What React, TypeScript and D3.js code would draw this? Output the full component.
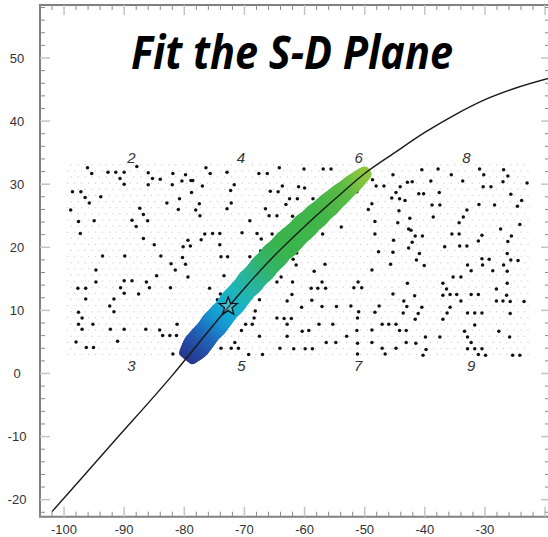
import React from "react";
import * as d3 from "d3";

const WIDTH = 548;
const HEIGHT = 537;

const titleText = "Fit the S-D Plane";
const xTickValues = [-100, -90, -80, -70, -60, -50, -40, -30];
const yTickValues = [-20, -10, 0, 10, 20, 30, 40, 50];

// fitted curve through the S-D plane
const curveX = [-102, -92, -82, -76, -70, -65, -60, -55, -50, -45, -40, -35, -30, -25, -19.3];
const curveY = [-21.9, -11.1, -0.3, 6.7, 13.5, 18.7, 23.3, 27.6, 31.7, 35.0, 38.2, 41.0, 43.4, 45.2, 46.8];

// accepted solutions band (centre x along curve, half spread in y units)
const bandX = [-79.4, -78.6, -78, -77, -76, -75, -74, -73, -72, -71, -70, -69, -68, -67, -66, -65, -64, -63, -62, -61, -60, -59, -58, -57, -56, -55, -54, -53, -52, -51, -50.3, -49.7];
const bandSpread = [0.9, 1.3, 1.5, 1.45, 1.35, 1.5, 1.4, 1.3, 1.45, 1.35, 1.3, 1.45, 1.35, 1.5, 1.4, 1.5, 1.35, 1.5, 1.4, 1.3, 1.4, 1.25, 1.3, 1.15, 1.2, 1.05, 1.0, 0.85, 0.8, 0.6, 0.5, 0.3];
const bandColorX = [-79.4, -77.5, -75.8, -74.3, -72.8, -70.8, -68.8, -66.3, -63, -57, -53, -50];
const bandColors = ["#27388f", "#2450a8", "#1f6fbe", "#1893cf", "#15acd3", "#1fb5bd", "#27b59f", "#33b46a", "#3bb44c", "#43b64a", "#5bbb46", "#8cc63f"];

// best fit (star)
const bestX = [-72.7];
const bestY = [10.6];

// grid corner labels
const cornerLabels = ["2", "3", "4", "5", "6", "7", "8", "9"];
const cornerX = [-88.8, -88.8, -70.6, -70.5, -51.0, -51.1, -33.1, -32.3];
const cornerY = [34.2, 1.2, 34.2, 1.2, 34.2, 1.2, 34.2, 1.2];

// background sampling grid extent
const gridXRange = [-99.4, -22.5];
const gridYRange = [3.0, 33.1];

// sampled points in the plane
const cloudPoints: [number, number][] = [
  [-96.1, 32.6], [-95.4, 31.7], [-92.7, 31.9], [-91.4, 31.9], [-90.0, 31.9], [-87.9, 32.8], [-86.0, 31.8],
  [-90.7, 30.9], [-90.0, 30.0], [-85.3, 30.9], [-84.0, 30.8], [-86.0, 29.9], [-81.9, 31.7], [-79.8, 31.5],
  [-80.4, 30.5], [-78.9, 30.6], [-78.6, 30.6], [-76.4, 32.6], [-75.7, 31.7], [-77.0, 29.7], [-82.0, 29.9],
  [-98.6, 28.8], [-97.2, 28.8], [-96.5, 27.9], [-95.8, 27.0], [-93.9, 28.0], [-78.8, 28.7], [-80.8, 27.7],
  [-82.9, 27.0], [-77.5, 26.9], [-98.9, 25.9], [-87.4, 26.2], [-86.8, 25.2], [-81.0, 26.0], [-78.1, 25.9],
  [-77.4, 25.0], [-97.6, 24.1], [-95.0, 24.2], [-88.7, 24.3], [-86.1, 24.2], [-88.0, 23.3], [-97.3, 22.2],
  [-76.6, 22.1], [-75.3, 22.2], [-86.8, 21.4], [-79.4, 21.1], [-77.2, 21.2], [-85.0, 20.4], [-80.2, 20.1],
  [-79.0, 20.2], [-93.6, 18.6], [-89.9, 18.6], [-83.9, 18.6], [-80.3, 18.4],
  [-72.9, 31.9], [-67.6, 31.7], [-66.2, 31.7], [-64.2, 32.6], [-60.1, 32.4], [-56.9, 32.4], [-55.6, 32.4],
  [-71.7, 29.9], [-72.3, 29.0], [-65.7, 28.9], [-64.4, 28.8], [-63.7, 29.7], [-61.0, 29.6], [-60.0, 29.4],
  [-62.5, 27.7], [-61.2, 27.7], [-58.6, 27.7], [-63.1, 26.8], [-72.2, 27.0], [-72.9, 26.1], [-66.5, 26.1],
  [-65.9, 25.0], [-64.6, 25.0], [-62.0, 24.9], [-69.1, 24.2], [-57.0, 23.9], [-53.9, 23.2], [-51.3, 28.8],
  [-49.4, 26.0], [-74.1, 22.2], [-70.4, 22.3], [-67.9, 22.2], [-65.4, 22.1], [-67.2, 21.3], [-74.1, 20.4],
  [-59.9, 21.0], [-57.0, 22.1], [-61.3, 19.1], [-73.9, 18.5], [-72.8, 18.5], [-69.1, 18.5], [-67.3, 19.4],
  [-45.3, 31.5], [-40.5, 32.3], [-37.8, 32.4], [-35.6, 31.5], [-30.9, 32.4], [-26.9, 32.3], [-30.2, 31.5],
  [-26.2, 31.3], [-48.7, 30.7], [-48.1, 29.7], [-46.8, 29.7], [-44.1, 29.6], [-42.9, 30.3], [-42.1, 30.4],
  [-39.0, 30.5], [-33.7, 30.5], [-30.3, 29.6], [-29.0, 29.6], [-27.0, 30.4], [-23.0, 30.2], [-44.8, 28.7],
  [-45.5, 27.8], [-44.2, 27.7], [-43.3, 27.4], [-41.0, 28.5], [-40.2, 28.5], [-37.6, 28.7], [-25.7, 28.4],
  [-23.9, 27.4], [-24.6, 26.5], [-48.8, 26.9], [-38.8, 26.7], [-37.5, 26.7], [-31.0, 26.8], [-28.4, 26.7],
  [-44.3, 25.8], [-33.0, 25.9], [-33.6, 24.8], [-34.3, 23.9], [-38.6, 24.8], [-42.5, 24.6], [-48.3, 24.1],
  [-44.5, 23.9], [-24.2, 23.6], [-27.4, 22.9], [-42.7, 22.9], [-42.3, 22.7], [-41.6, 21.8], [-40.4, 21.8],
  [-35.5, 22.1], [-34.3, 22.1], [-30.5, 21.9], [-25.6, 21.8], [-48.3, 22.1], [-45.2, 21.1], [-42.1, 20.8],
  [-31.1, 21.0], [-26.2, 20.9], [-42.7, 19.9], [-36.7, 20.1], [-34.2, 20.2], [-33.0, 20.2], [-47.7, 19.3],
  [-45.3, 19.2], [-40.9, 19.0], [-26.3, 19.0],
  [-94.7, 16.4], [-82.2, 17.4], [-81.5, 16.4], [-79.8, 17.3], [-79.4, 15.3], [-84.6, 15.5], [-94.7, 14.5],
  [-90.0, 14.7], [-88.7, 14.7], [-86.3, 14.5], [-90.6, 13.6], [-85.8, 13.6], [-82.3, 13.6], [-75.8, 13.5],
  [-97.7, 13.5], [-96.4, 13.5], [-90.0, 12.7], [-87.6, 12.6], [-96.4, 11.8], [-91.7, 11.8], [-92.4, 10.7],
  [-91.7, 9.8], [-74.5, 11.7], [-97.6, 9.7], [-97.0, 8.8], [-97.6, 7.8], [-95.2, 7.8], [-97.0, 7.0],
  [-92.3, 7.0], [-90.0, 7.0], [-86.4, 7.0], [-84.1, 6.9], [-81.2, 7.8], [-83.6, 6.0], [-82.4, 6.0],
  [-81.3, 6.0], [-79.0, 5.9], [-98.0, 5.0], [-91.1, 5.1], [-96.3, 4.1], [-95.1, 4.1], [-81.9, 3.1], [-79.6, 4.9],
  [-61.9, 18.1], [-61.4, 17.2], [-56.6, 17.3], [-58.4, 16.2], [-73.4, 15.5], [-63.9, 15.3], [-64.6, 14.5],
  [-62.0, 14.5], [-57.1, 14.5], [-51.1, 14.5], [-58.9, 13.5], [-57.8, 13.5], [-56.5, 13.5], [-51.8, 13.6],
  [-50.5, 13.6], [-74.0, 12.6], [-62.1, 12.5], [-67.5, 11.7], [-62.9, 11.5], [-58.8, 11.6], [-60.5, 10.5],
  [-57.1, 10.6], [-54.7, 10.6], [-52.3, 10.7], [-68.2, 9.9], [-51.0, 9.8], [-68.4, 8.8], [-64.6, 8.8],
  [-63.4, 8.7], [-62.2, 8.7], [-51.2, 8.8], [-69.8, 7.8], [-68.7, 7.8], [-62.9, 7.8], [-57.6, 7.8],
  [-55.3, 7.8], [-70.5, 6.8], [-60.4, 6.7], [-59.3, 6.8], [-51.3, 6.8], [-67.5, 5.9], [-62.9, 5.9],
  [-53.0, 5.9], [-71.6, 4.9], [-56.4, 4.9], [-54.8, 4.9], [-51.2, 4.8], [-73.9, 4.0], [-72.2, 4.0],
  [-71.0, 4.0], [-64.1, 4.0], [-61.8, 3.9], [-59.9, 3.9], [-58.7, 3.9], [-69.3, 3.0], [-67.0, 3.0], [-51.2, 3.1],
  [-41.4, 18.0], [-30.5, 18.2], [-29.3, 18.1], [-25.7, 18.0], [-24.5, 17.9], [-45.7, 17.3], [-40.1, 17.1],
  [-32.9, 17.2], [-30.4, 17.2], [-26.9, 17.2], [-48.8, 16.4], [-32.3, 16.3], [-28.7, 16.3], [-26.3, 16.2],
  [-35.3, 15.3], [-34.0, 15.3], [-42.9, 14.3], [-37.0, 14.3], [-26.3, 14.3], [-36.4, 13.4], [-28.1, 13.4],
  [-45.3, 12.6], [-41.7, 12.3], [-37.0, 12.4], [-35.8, 12.5], [-34.7, 12.5], [-32.3, 12.5], [-31.1, 12.5],
  [-26.4, 12.4], [-43.5, 11.5], [-34.0, 11.5], [-28.1, 11.5], [-27.0, 11.5], [-25.8, 11.4], [-23.5, 11.4],
  [-47.6, 10.7], [-43.0, 10.6], [-40.5, 10.5], [-35.8, 10.5], [-48.3, 9.7], [-43.6, 9.6], [-41.1, 9.5],
  [-36.3, 9.6], [-32.9, 9.6], [-31.7, 9.6], [-30.5, 9.6], [-25.8, 9.5], [-41.6, 8.6], [-37.0, 8.6],
  [-47.1, 7.8], [-46.0, 7.8], [-44.8, 7.8], [-31.7, 7.7], [-48.8, 6.9], [-44.2, 6.8], [-43.1, 6.8],
  [-33.4, 6.7], [-27.7, 6.7], [-39.9, 5.8], [-37.5, 5.8], [-32.9, 5.8], [-25.9, 5.8], [-48.8, 4.9],
  [-43.1, 4.9], [-41.5, 4.8], [-32.3, 4.9], [-47.1, 4.0], [-44.8, 4.0], [-39.8, 3.8], [-32.9, 3.9],
  [-31.7, 3.9], [-30.5, 3.9], [-46.6, 3.1], [-40.3, 2.9], [-31.1, 3.0], [-29.9, 2.9], [-25.4, 2.9], [-24.2, 2.9],
];

export default function App() {
  const xs = d3.scaleLinear().domain([-104, -19.35]).range([40, 549]);
  const ys = d3.scaleLinear().domain([-22.7, 58.4]).range([516.7, 5]);

  const curveAt = d3.scaleLinear().domain(curveX).range(curveY);
  const spreadAt = d3.scaleLinear().domain(bandX).range(bandSpread).clamp(true);
  const colorAt = d3
    .scaleLinear<string>()
    .domain(bandColorX)
    .range(bandColors)
    .interpolate(d3.interpolateRgb)
    .clamp(true);

  const line = d3
    .line<number>()
    .x((_, i) => xs(curveX[i]))
    .y((d) => ys(d))
    .curve(d3.curveMonotoneX);
  const curvePath = line(curveY) || "";

  // band circles
  const unitPx = ys(0) - ys(1);
  const bandCircles: { cx: number; cy: number; fill: string }[] = [];
  const stations = d3.range(bandX[0], bandX[bandX.length - 1] + 0.001, 0.2);
  const offsets = [-1, -0.66, -0.33, 0, 0.33, 0.66, 1];
  stations.forEach((bx) => {
    const px = xs(bx);
    const py = ys(curveAt(bx));
    const tx = xs(bx + 0.2) - xs(bx - 0.2);
    const ty = ys(curveAt(bx + 0.2)) - ys(curveAt(bx - 0.2));
    const len = Math.hypot(tx, ty);
    const nx = -ty / len;
    const ny = tx / len;
    const hw = spreadAt(bx) * unitPx;
    offsets.forEach((k) => {
      bandCircles.push({ cx: px + nx * hw * k, cy: py + ny * hw * k, fill: colorAt(bx) });
    });
  });

  // background sampling grid
  const gridDots: { x: number; y: number }[] = [];
  const rows = d3.range(gridYRange[0], gridYRange[1] + 0.01, 0.97);
  rows.forEach((gy, ri) => {
    d3.range(gridXRange[0] + (ri % 2) * 0.58, gridXRange[1], 1.16).forEach((gx) => {
      gridDots.push({ x: gx, y: gy });
    });
  });

  // star
  const starPts: [number, number][] = [];
  for (let i = 0; i < 10; i++) {
    const r = i % 2 === 0 ? 9.5 : 4;
    const a = -Math.PI / 2 + (i * Math.PI) / 5;
    starPts.push([xs(bestX[0]) + r * Math.cos(a), ys(bestY[0]) + r * Math.sin(a)]);
  }
  const starPath = (d3.line()(starPts) || "") + "Z";

  const xMinor = d3.range(-104, -19, 2).filter((v) => v % 10 !== 0);
  const xMajor = d3.range(-100, -19, 10);
  const yMinor = d3.range(-22, 59, 2).filter((v) => v % 10 !== 0);
  const yMajor = d3.range(-20, 59, 10);

  const left = 40;
  const right = 551;
  const top = 5;
  const bottom = 516.7;
  const axisColor = "#808080";

  return (
    <svg
      width={WIDTH}
      height={HEIGHT}
      style={{ position: "absolute", left: 0, top: 0, background: "#fff" }}
    >
      <rect x={0} y={0} width={WIDTH} height={HEIGHT} fill="#fff" />

      {/* grid dots */}
      <g fill="#d0d0d0">
        {gridDots.map((d, i) => (
          <circle key={i} cx={xs(d.x)} cy={ys(d.y)} r={0.7} />
        ))}
      </g>

      {/* cloud */}
      <g fill="#111">
        {cloudPoints.map((d, i) => (
          <circle key={i} cx={xs(d[0])} cy={ys(d[1])} r={1.75} />
        ))}
      </g>

      {/* band */}
      <g>
        {bandCircles.map((c, i) => (
          <circle key={i} cx={c.cx} cy={c.cy} r={4.5} fill={c.fill} />
        ))}
      </g>

      {/* curve */}
      <path d={curvePath} fill="none" stroke="#1a1a1a" strokeWidth={1.4} />

      {/* star */}
      <path d={starPath} fill="rgba(255,255,255,0.2)" stroke="#111" strokeWidth={1.3} strokeLinejoin="miter" />

      {/* corner labels */}
      <g fontFamily="'Liberation Sans', Arial, sans-serif" fontStyle="italic" fontSize={15} fill="#333" textAnchor="middle">
        {cornerLabels.map((t, i) => (
          <text key={t} x={xs(cornerX[i])} y={ys(cornerY[i])} dy="0.35em">
            {t}
          </text>
        ))}
      </g>

      {/* frame */}
      <g stroke={axisColor} strokeWidth={2} fill="none">
        <line x1={left} y1={top} x2={left} y2={bottom} />
        <line x1={left - 1} y1={bottom} x2={right} y2={bottom} />
        <line x1={left - 1} y1={top} x2={right} y2={top} />
        <line x1={right} y1={top} x2={right} y2={bottom} />
      </g>

      {/* ticks */}
      <g>
        {xMinor.map((v) => (
          <g key={"xm" + v} stroke="#8a8a8a" strokeWidth={1}>
            <line x1={xs(v)} x2={xs(v)} y1={bottom} y2={bottom - 5} />
            <line x1={xs(v)} x2={xs(v)} y1={top} y2={top + 5} />
          </g>
        ))}
        {xMajor.map((v) => (
          <g key={"xM" + v} stroke="#c4c4c4" strokeWidth={1.5}>
            <line x1={xs(v)} x2={xs(v)} y1={bottom} y2={bottom - 10} />
            <line x1={xs(v)} x2={xs(v)} y1={top} y2={top + 10} />
          </g>
        ))}
        {yMinor.map((v) => (
          <g key={"ym" + v} stroke="#8a8a8a" strokeWidth={1}>
            <line x1={left} x2={left + 5} y1={ys(v)} y2={ys(v)} />
            <line x1={right} x2={right - 6} y1={ys(v)} y2={ys(v)} />
          </g>
        ))}
        {yMajor.map((v) => (
          <g key={"yM" + v} stroke="#c4c4c4" strokeWidth={1.5}>
            <line x1={left} x2={left + 10} y1={ys(v)} y2={ys(v)} />
            <line x1={right} x2={right - 10} y1={ys(v)} y2={ys(v)} />
          </g>
        ))}
      </g>

      {/* tick labels */}
      <g fontFamily="'Liberation Sans', Arial, sans-serif" fontSize={13} fill="#333" textAnchor="middle">
        {xTickValues.map((v) => (
          <text key={"xl" + v} x={xs(v)} y={534}>
            {v}
          </text>
        ))}
        {yTickValues.map((v) => (
          <text key={"yl" + v} x={17} y={ys(v)} dy="0.35em">
            {v}
          </text>
        ))}
      </g>

      {/* title */}
      <text
        x={292}
        y={69}
        textAnchor="middle"
        fontFamily="'Open Sans', sans-serif"
        fontWeight="bold"
        fontStyle="italic"
        fontSize={47}
        fill="#000"
        textLength={322}
        lengthAdjust="spacingAndGlyphs"
      >
        {titleText}
      </text>
    </svg>
  );
}
